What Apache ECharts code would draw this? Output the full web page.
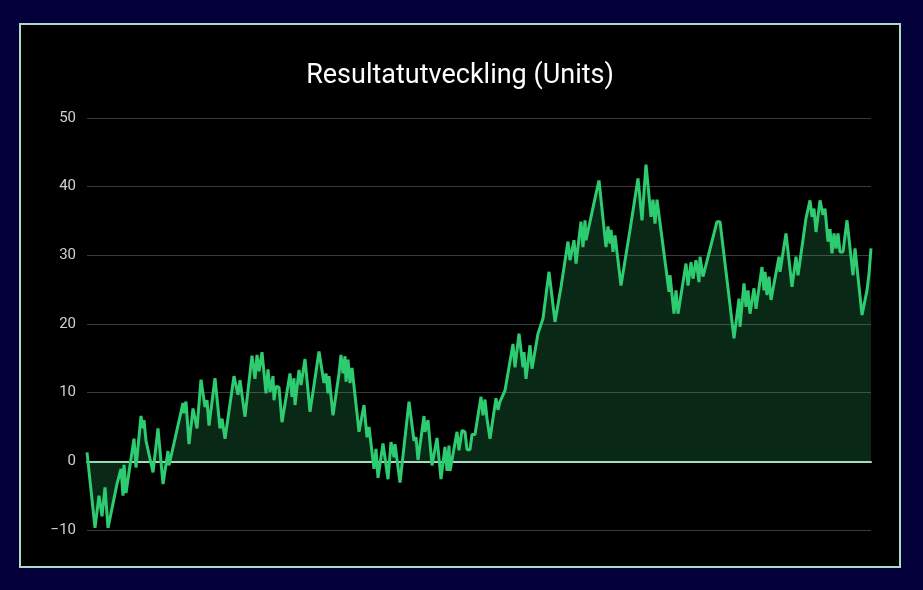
<!DOCTYPE html>
<html>
<head>
<meta charset="utf-8">
<script src="https://cdn.jsdelivr.net/npm/echarts@6/dist/echarts.min.js"></script>
<style>
  html, body { margin: 0; padding: 0; background: #04003a; width: 923px; height: 590px; overflow: hidden; }
  #panel { position: absolute; left: 19px; top: 23px; width: 878px; height: 541px; border: 2px solid #a9dcc3; background: #000; }
  #chart { width: 878px; height: 541px; }
</style>
</head>
<body>
<div id="panel"><div id="chart"></div></div>
<script>
const chartTitle = 'Resultatutveckling (Units)';
const yTicks = [-10, 0, 10, 20, 30, 40, 50];
const betIndex = [0,8,12,15,18,21,30,32,34,36,37,39,42,47,49,54,56,57,59,61,66,71,76,81,82,96,97,99,102,106,108,110,114,118,120,122,128,133,135,138,147,149,151,153,155,158,165,168,170,172,175,179,181,183,186,187,189,192,195,203,205,207,208,212,214,218,223,232,237,239,241,242,246,252,254,256,258,259,261,263,265,272,277,280,282,287,289,291,296,298,301,304,307,308,313,322,327,329,331,337,338,341,345,350,354,358,360,362,363,370,372,375,378,380,383,385,388,394,396,398,400,402,403,409,411,413,418,426,428,432,436,437,439,443,445,451,453,456,462,468,474,481,483,487,489,494,496,498,499,508,509,512,519,521,523,524,526,528,534,543,551,555,559,564,566,568,570,582,583,587,589,591,599,601,604,606,609,612,613,616,618,630,633,647,652,653,657,659,661,663,667,669,675,677,678,680,682,684,692,693,699,705,709,711,719,721,723,725,727,729,733,736,738,741,743,745,747,749,751,753,756,760,766,768,775,780,782,784];
const cumulativeUnits = [1.3,-9.7,-5,-8,-3.8,-9.7,-3.3,-3.4,-1.1,-5,-0.5,-4.6,-1.6,3.3,-0.9,6.6,4.8,6,3,3.1,-1.6,4.8,-3.3,1.5,-0.6,8.5,7,8.7,2.5,7.7,7.7,4.8,11.9,7.9,8.9,5.2,12.1,4.8,6.2,3.3,12.4,12.4,9.7,11.8,11.8,6.5,15.4,12,15.5,13.1,15.9,9.9,13.4,10.1,12.4,8.9,10.9,10.8,5.7,12.8,9.4,12.1,8.2,13.3,11.1,14.9,7.2,16,11.4,12.8,9.9,12.4,6.7,12.8,15.5,12.8,15.3,11.6,14.8,11.4,13.6,4.3,8.2,3.5,5,-1.1,1.8,-2.4,2.6,2.5,-2.6,2.8,0.6,2.5,-3.1,8.7,3,3.5,0.2,6.6,4.3,6,-0.6,3.4,-2.6,2.1,-1.4,2.3,-1.4,4.3,1.6,4.5,4.3,1.7,1.7,3.9,3.9,9.4,6.7,9,6.2,6,3.3,9.2,7.5,8.7,10.3,17.1,13.7,18.6,13.7,15.9,12,16.9,13.5,18.6,18.7,20.8,27.6,20.3,25.4,32,29.3,32.2,28.8,34.9,31.2,35.1,32.2,38.3,38.3,40.9,31.2,34.2,31.7,33.7,30.5,32.9,25.6,33.7,41.2,35.1,43.2,35.6,38.1,34.6,38.1,24.7,27.1,21.5,24.9,21.5,28.8,25.6,29,26.6,29.3,26.1,29.8,26.9,26.9,34.9,34.9,17.9,23.7,19.6,25.9,22.5,24.9,21.5,25.2,22.2,28.3,24.9,27.6,24.2,26.9,23.5,29.8,27.6,33.2,25.4,29.8,27.1,35.4,35.6,38,35.6,36.8,33.4,38,35.9,36.8,32,33.8,30.3,33.2,31,33.2,30.5,30.5,35.1,27.1,31,21.3,24.9,27.3,31];

const seriesData = betIndex.map((b, i) => [b, cumulativeUnits[i]]);

const chart = echarts.init(document.getElementById('chart'));
chart.setOption({
  backgroundColor: '#000',
  animation: false,
  textStyle: { fontFamily: 'Roboto' },
  title: {
    text: chartTitle,
    left: 'center',
    top: 33,
    textStyle: { color: '#ffffff', fontSize: 27, fontWeight: 'normal', fontFamily: 'Roboto' }
  },
  grid: { left: 66, right: 28, top: 93, bottom: 36, containLabel: false },
  xAxis: {
    type: 'value',
    min: betIndex[0],
    max: betIndex[betIndex.length - 1],
    axisLine: { show: true, onZero: true, lineStyle: { color: '#a9dcc3', width: 2 } },
    axisTick: { show: false },
    axisLabel: { show: false },
    splitLine: { show: false }
  },
  yAxis: {
    type: 'value',
    min: yTicks[0],
    max: yTicks[yTicks.length - 1],
    interval: 10,
    axisLine: { show: false },
    axisTick: { show: false },
    axisLabel: {
      color: '#d0d0d0',
      fontSize: 15,
      margin: 11,
      formatter: v => String(v).replace('-', '\u2212')
    },
    splitLine: { lineStyle: { color: '#3a3a3a', width: 1 } }
  },
  series: [{
    type: 'line',
    data: seriesData,
    showSymbol: false,
    smooth: false,
    lineStyle: { color: '#2ecc71', width: 3 },
    itemStyle: { color: '#2ecc71' },
    areaStyle: { color: 'rgba(46,204,113,0.28)' }
  }]
});
</script>
</body>
</html>
